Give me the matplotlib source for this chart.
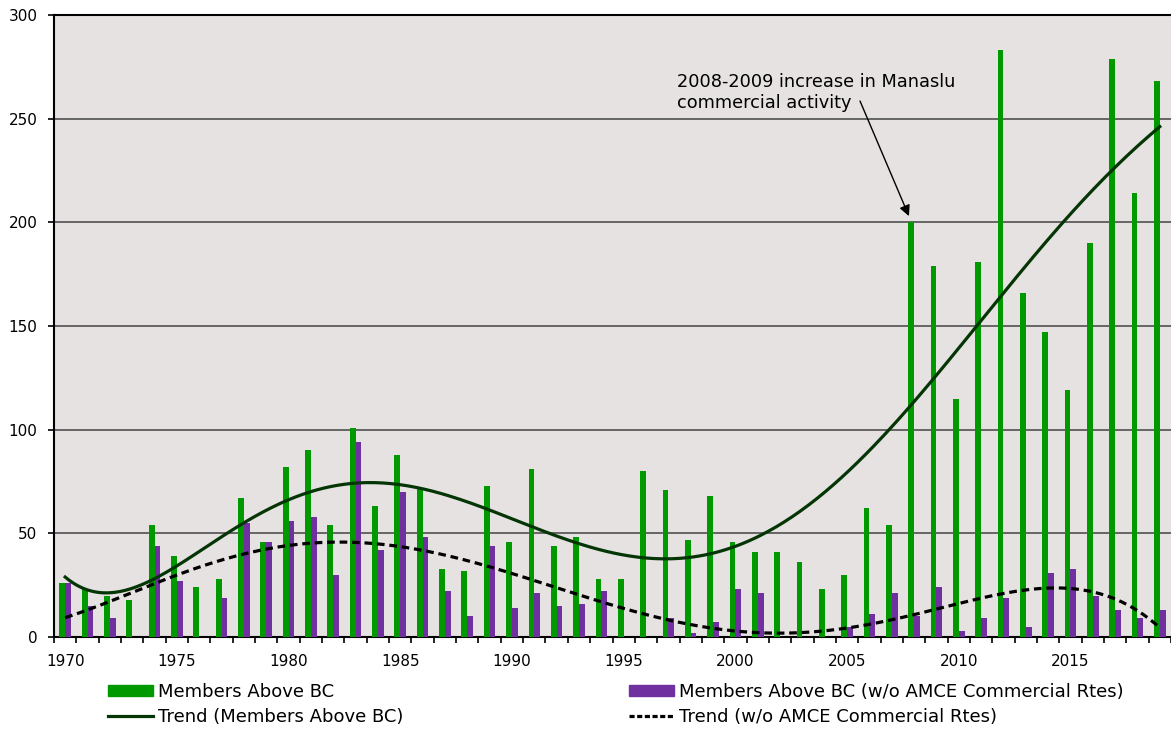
import numpy as np
import matplotlib
matplotlib.use('Agg')
import matplotlib.pyplot as plt
from matplotlib.patches import Patch
from matplotlib.lines import Line2D

# values, 1970-2019
years = list(range(1970, 2020))
members_above_bc = [26, 23, 20, 18, 54, 39, 24, 28, 67, 46,
                    82, 90, 54, 101, 63, 88, 72, 33, 32, 73,
                    46, 81, 44, 48, 28, 28, 80, 71, 47, 68,
                    46, 41, 41, 36, 23, 30, 62, 54, 200, 179,
                    115, 181, 283, 166, 147, 119, 190, 279, 214, 268]
members_no_amce = [26, 15, 9, 0, 44, 27, 0, 19, 55, 46,
                   56, 58, 30, 94, 42, 70, 48, 22, 10, 44,
                   14, 21, 15, 16, 22, 0, 0, 9, 2, 7,
                   23, 21, 0, 0, 0, 5, 11, 21, 10, 24,
                   3, 9, 19, 5, 31, 33, 20, 13, 9, 13]
tick_years = [1970, 1975, 1980, 1985, 1990, 1995, 2000, 2005, 2010, 2015]

green = '#009900'
purple = '#7030A0'
trend_green = '#043504'
bg = '#E7E2E2'

idx = np.arange(len(years))
# polynomial trendlines (order 6 and order 5) fitted to the bar values
fit_all = np.polynomial.Polynomial.fit(idx, members_above_bc, 6)
fit_no = np.polynomial.Polynomial.fit(idx, members_no_amce, 5)
xs = np.linspace(0, len(years) - 1, 400)

fig = plt.figure(figsize=(11.71, 7.32), dpi=100)
ax = fig.add_axes([54 / 1171, 95 / 732, 1 - 54 / 1171, 622 / 732])
ax.set_facecolor(bg)

w = 0.26
ax.bar(idx - w / 2, members_above_bc, width=w, color=green, zorder=3)
ax.bar(idx + w / 2, members_no_amce, width=w, color=purple, zorder=3)
ax.plot(xs, fit_all(xs), color=trend_green, lw=2.3, zorder=4)
ax.plot(xs, fit_no(xs), color='black', lw=2.3, dashes=(2.4, 1.5), zorder=4)

ax.set_xlim(-0.5, len(years) - 0.5)
ax.set_ylim(0, 300)
ax.set_yticks(range(0, 301, 50))
ax.yaxis.grid(True, color='#505050', lw=1.2, zorder=1)
ax.tick_params(axis='y', length=4, width=1.2, pad=8, labelsize=11)

# tick marks between categories, year labels under category centres
ax.set_xticks(np.arange(-0.5, len(years)), [''] * (len(years) + 1))
ax.tick_params(axis='x', which='major', length=4, width=1.2)
ax.set_xticks([years.index(y) for y in tick_years], [str(y) for y in tick_years], minor=True)
ax.tick_params(axis='x', which='minor', length=0, pad=12, labelsize=11)

for s in ['left', 'bottom', 'top']:
    ax.spines[s].set_linewidth(1.5)
    ax.spines[s].set_color('black')
ax.spines['right'].set_visible(False)

ax.text(27.39, 272, '2008-2009 increase in Manaslu\ncommercial activity',
        fontsize=12.8, va='top', ha='left', linespacing=1.2, zorder=5)
ax.annotate('', xy=(37.77, 203), xytext=(35.58, 258.5),
            arrowprops=dict(arrowstyle='-|>', color='black', lw=1,
                            mutation_scale=16, shrinkA=0, shrinkB=0), zorder=5)

handles = [Patch(color=green), Line2D([], [], color=trend_green, lw=2.3),
           Patch(color=purple), Line2D([], [], color='black', lw=2.3, dashes=(1.6, 0.8))]
labels = ['Members Above BC', 'Trend (Members Above BC)',
          'Members Above BC (w/o AMCE Commercial Rtes)', 'Trend (w/o AMCE Commercial Rtes)']
fig.legend(handles, labels, loc='upper left', bbox_to_anchor=(99 / 1171, 1 - 674 / 732),
           ncol=2, frameon=False, fontsize=13, borderpad=0, handlelength=2.5,
           handleheight=0.5, handletextpad=0.28, columnspacing=12.5, labelspacing=0.4)

fig.savefig('out.png', dpi=100)
